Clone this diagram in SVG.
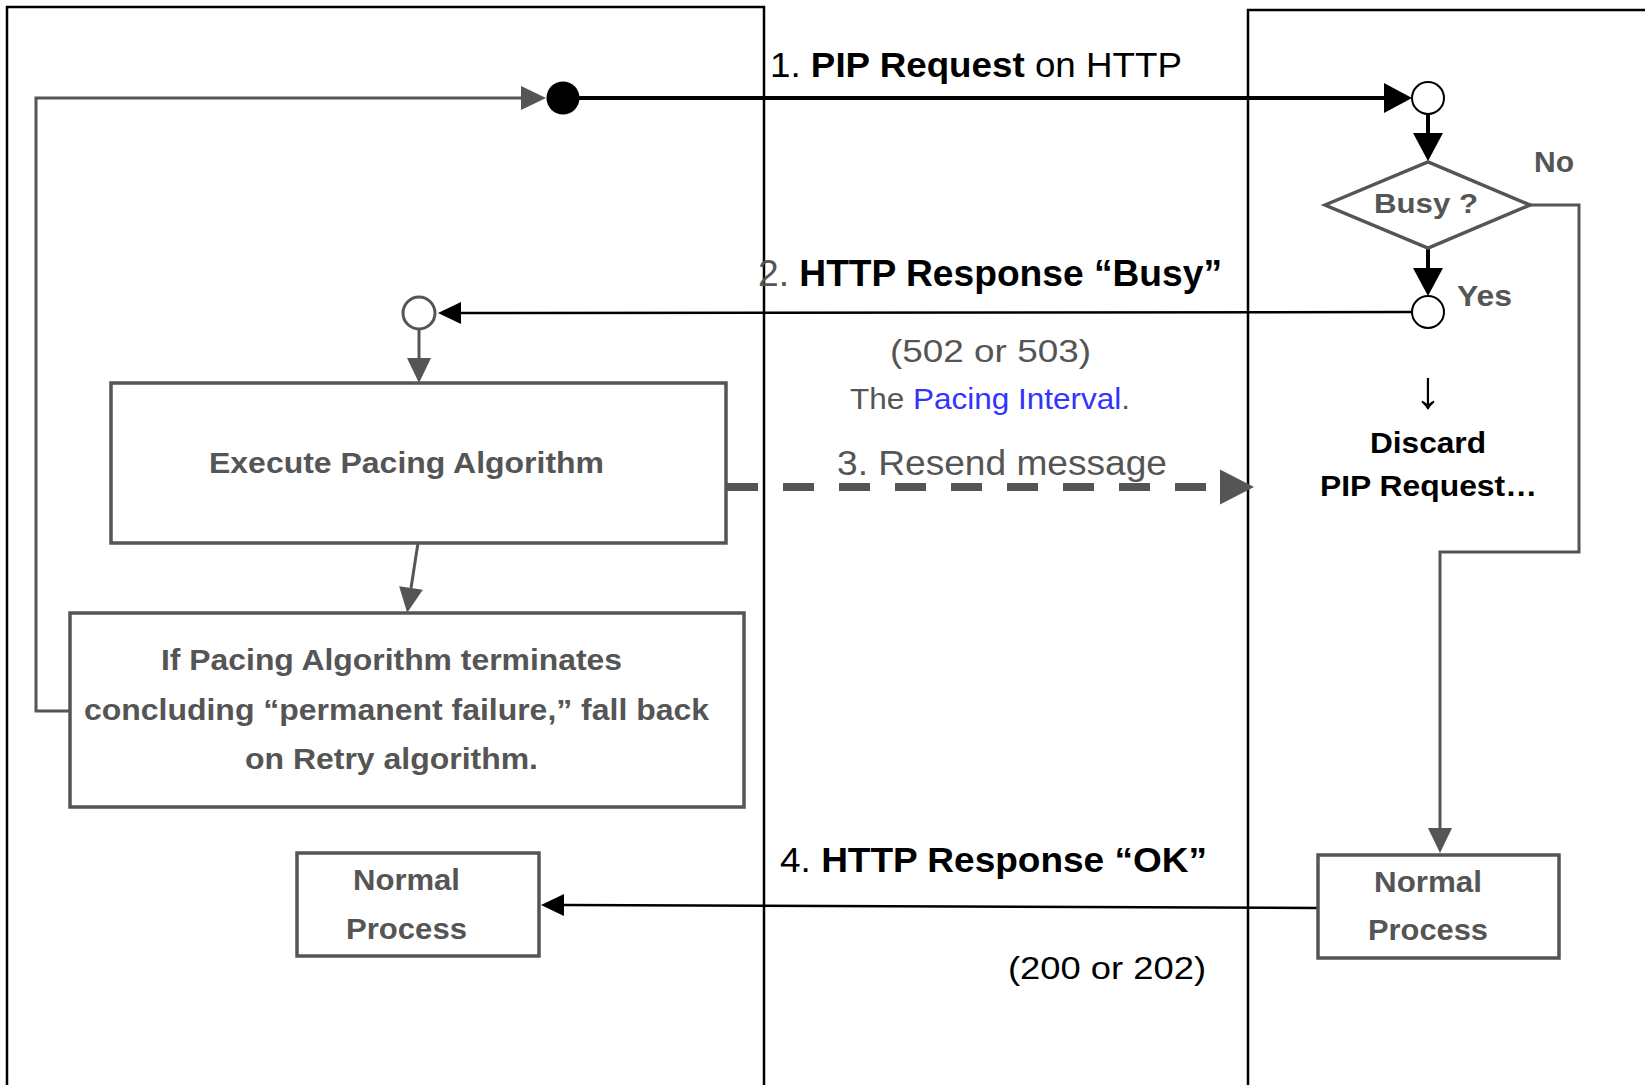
<svg xmlns="http://www.w3.org/2000/svg" width="1645" height="1085" viewBox="0 0 1645 1085">
  <style>
    text { font-family: "Liberation Sans", Arial, Helvetica, sans-serif; }
    .lane { fill: none; stroke: #000; stroke-width: 2.5; }
    .box { fill: #fff; stroke: #555; stroke-width: 3.5; }
    .lbl { fill: #555; font-weight: bold; }
    .msg { fill: #000; }
    .gray { fill: #555; }
    .blue { fill: #3333ff; }
    .b { font-weight: bold; }
    .flow { fill: none; stroke: #555; stroke-width: 3; }
    .wire { fill: none; stroke: #000; stroke-width: 2.5; }
    .heavy { fill: none; stroke: #000; stroke-width: 4; }
  </style>
  <defs>
    <marker id="headBlackL" markerUnits="userSpaceOnUse" markerWidth="30" markerHeight="32" refX="0" refY="15" orient="auto" overflow="visible">
      <path d="M0,0 L28,15 L0,30 Z" fill="#000"/>
    </marker>
    <marker id="headBlackS" markerUnits="userSpaceOnUse" markerWidth="24" markerHeight="24" refX="0" refY="11" orient="auto" overflow="visible">
      <path d="M0,0 L23,11 L0,22 Z" fill="#000"/>
    </marker>
    <marker id="headGray" markerUnits="userSpaceOnUse" markerWidth="26" markerHeight="26" refX="0" refY="12" orient="auto" overflow="visible">
      <path d="M0,0 L25,12 L0,24 Z" fill="#555"/>
    </marker>
    <marker id="headGrayL" markerUnits="userSpaceOnUse" markerWidth="36" markerHeight="36" refX="0" refY="17.5" orient="auto" overflow="visible">
      <path d="M0,0 L34,17.5 L0,35 Z" fill="#555"/>
    </marker>
  </defs>

  <!-- swimlanes -->
  <g id="lane-sender">
    <path class="lane" d="M7,1085 V7 H764 V1085"/>
  </g>
  <g id="lane-receiver">
    <path class="lane" d="M1248,1085 V10 H1645"/>
  </g>

  <!-- connectors -->
  <g id="connectors">
    <!-- retry fallback loop back to the request start -->
    <path class="flow" d="M70,711 H36 V98 H521" marker-end="url(#headGray)"/>
    <!-- 1. PIP request -->
    <path class="heavy" d="M579,98 H1384" marker-end="url(#headBlackL)"/>
    <!-- receive -> decision -->
    <path class="heavy" d="M1428,114 V133" marker-end="url(#headBlackL)"/>
    <!-- decision yes -->
    <path class="heavy" d="M1428,248 V268" marker-end="url(#headBlackL)"/>
    <!-- 2. busy response -->
    <path class="wire" d="M1412,312 L461,313" marker-end="url(#headBlackS)"/>
    <!-- wait -> execute pacing -->
    <path class="flow" d="M419,329 V358" marker-end="url(#headGray)"/>
    <!-- execute pacing -> fallback -->
    <path class="flow" d="M418,543 L411,588" marker-end="url(#headGray)"/>
    <!-- 3. resend message -->
    <path fill="none" stroke="#555" stroke-width="8" stroke-dasharray="31 25" d="M727,487 H1220" marker-end="url(#headGrayL)"/>
    <!-- decision no -> normal process -->
    <path class="flow" d="M1530,205 H1579 V552 H1440 V828" marker-end="url(#headGray)"/>
    <!-- 4. OK response -->
    <path class="wire" d="M1318,908 L564,905" marker-end="url(#headBlackS)"/>
  </g>

  <!-- message labels -->
  <g id="message-labels">
    <text x="770" y="77" font-size="35" textLength="412" lengthAdjust="spacingAndGlyphs" class="msg">1. <tspan class="b">PIP Request</tspan> on HTTP</text>
    <text x="758" y="286" font-size="36" textLength="464" lengthAdjust="spacingAndGlyphs" class="msg"><tspan class="gray">2.</tspan> <tspan class="b">HTTP Response “Busy”</tspan></text>
    <text x="890" y="362" font-size="32" textLength="201" lengthAdjust="spacingAndGlyphs" class="gray">(502 or 503)</text>
    <text x="850" y="409" font-size="29" textLength="280" lengthAdjust="spacingAndGlyphs" class="gray">The <tspan class="blue">Pacing Interval</tspan>.</text>
    <text x="837" y="475" font-size="35" textLength="330" lengthAdjust="spacingAndGlyphs" class="gray">3. Resend message</text>
    <text x="780" y="872" font-size="35" textLength="427" lengthAdjust="spacingAndGlyphs" class="msg">4. <tspan class="b">HTTP Response “OK”</tspan></text>
    <text x="1008" y="979" font-size="32" textLength="198" lengthAdjust="spacingAndGlyphs" class="msg">(200 or 202)</text>
  </g>

  <!-- sender side nodes -->
  <g id="start-point">
    <circle cx="563" cy="98" r="16.5" fill="#000"/>
  </g>
  <g id="wait-point">
    <circle cx="419" cy="313" r="16" fill="#fff" stroke="#555" stroke-width="3"/>
  </g>
  <g id="execute-pacing">
    <rect class="box" x="111" y="383" width="615" height="160"/>
    <text class="lbl" x="209" y="473" font-size="29" textLength="395" lengthAdjust="spacingAndGlyphs">Execute Pacing Algorithm</text>
  </g>
  <g id="fallback-retry">
    <rect class="box" x="70" y="613" width="674" height="194"/>
    <text class="lbl" x="161" y="670" font-size="30" textLength="461" lengthAdjust="spacingAndGlyphs">If Pacing Algorithm terminates</text>
    <text class="lbl" x="84" y="720" font-size="30" textLength="625" lengthAdjust="spacingAndGlyphs">concluding “permanent failure,” fall back</text>
    <text class="lbl" x="245" y="769" font-size="30" textLength="293" lengthAdjust="spacingAndGlyphs">on Retry algorithm.</text>
  </g>
  <g id="normal-sender">
    <rect class="box" x="297" y="853" width="242" height="103"/>
    <text class="lbl" x="353" y="890" font-size="29" textLength="107" lengthAdjust="spacingAndGlyphs">Normal</text>
    <text class="lbl" x="346" y="939" font-size="29" textLength="121" lengthAdjust="spacingAndGlyphs">Process</text>
  </g>

  <!-- receiver side nodes -->
  <g id="receive-point">
    <circle cx="1428" cy="98" r="16" fill="#fff" stroke="#000" stroke-width="2"/>
  </g>
  <g id="busy-decision">
    <polygon points="1325,205 1428,162 1530,205 1428,248" fill="#fff" stroke="#555" stroke-width="3.5"/>
    <text class="lbl" x="1374" y="213" font-size="28" textLength="104" lengthAdjust="spacingAndGlyphs">Busy ?</text>
    <text class="lbl" x="1534" y="172" font-size="29" textLength="40" lengthAdjust="spacingAndGlyphs">No</text>
    <text class="lbl" x="1457" y="306" font-size="30" textLength="55" lengthAdjust="spacingAndGlyphs">Yes</text>
  </g>
  <g id="busy-point">
    <circle cx="1428" cy="312" r="16" fill="#fff" stroke="#000" stroke-width="2"/>
  </g>
  <g id="discard-request">
    <text x="1428" y="408" font-size="53" text-anchor="middle" fill="#000">↓</text>
    <text x="1370" y="453" font-size="30" font-weight="bold" fill="#000" textLength="116" lengthAdjust="spacingAndGlyphs">Discard</text>
    <text x="1320" y="496" font-size="30" font-weight="bold" fill="#000" textLength="217" lengthAdjust="spacingAndGlyphs">PIP Request…</text>
  </g>
  <g id="normal-receiver">
    <rect class="box" x="1318" y="855" width="241" height="103"/>
    <text class="lbl" x="1374" y="892" font-size="29" textLength="108" lengthAdjust="spacingAndGlyphs">Normal</text>
    <text class="lbl" x="1368" y="940" font-size="29" textLength="120" lengthAdjust="spacingAndGlyphs">Process</text>
  </g>
</svg>
